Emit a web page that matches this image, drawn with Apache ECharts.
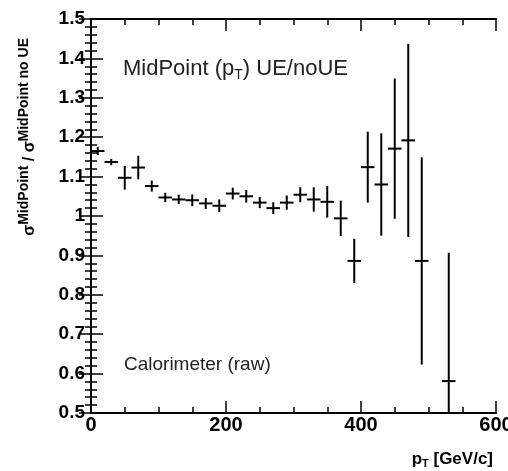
<!DOCTYPE html>
<html><head><meta charset="utf-8">
<script src="https://cdn.jsdelivr.net/npm/echarts@6/dist/echarts.min.js"></script>
<style>html,body{margin:0;padding:0;background:#fff}#c{width:508px;height:471px}</style>
</head><body><div id="c"></div>
<script>
var pT      = [10,30,50,70,90,110,130,150,170,190,210,230,250,270,290,310,330,350,370,390,410,430,450,470,490,530];
var ratio   = [1.165,1.137,1.097,1.123,1.076,1.047,1.042,1.040,1.032,1.026,1.057,1.050,1.034,1.020,1.034,1.054,1.042,1.036,0.994,0.886,1.124,1.080,1.171,1.192,0.886,0.581];
var errY    = [0.010,0.008,0.030,0.030,0.014,0.012,0.012,0.015,0.014,0.016,0.015,0.016,0.014,0.015,0.018,0.019,0.031,0.040,0.045,0.056,0.090,0.130,0.178,0.245,0.263,0.326];
var errX    = [10,10,10,10,10,10,10,10,10,10,10,10,10,10,10,10,10,10,10,10,10,10,10,10,10,10];
var xTicks  = [0,200,400,600];
var yTicks  = [0.5,0.6,0.7,0.8,0.9,1,1.1,1.2,1.3,1.4,1.5];

var data = pT.map(function(x,i){ return [x, ratio[i], ratio[i]-errY[i], ratio[i]+errY[i], errX[i]]; });
var FONT = '"Liberation Sans", Arial, Helvetica, sans-serif';
function tickSet(split){
  return {
    axisLine:{lineStyle:{color:'#000',width:2}},
    axisTick:{inside:true,length:12,lineStyle:{color:'#000',width:1.5}},
    minorTick:{show:true,splitNumber:split,length:6,lineStyle:{color:'#000',width:1.5}},
    splitLine:{show:false}
  };
}
function ax(base, extra){ for (var k in extra) base[k]=extra[k]; return base; }

var chart = echarts.init(document.getElementById('c'), null, {renderer:'canvas'});
chart.setOption({
  animation:false,
  backgroundColor:'#fff',
  grid:{left:91,top:19,width:405,height:394,containLabel:false,outerBoundsMode:'none'},
  xAxis:[
    ax(tickSet(4),{type:'value',position:'bottom',min:xTicks[0],max:xTicks[xTicks.length-1],interval:200,
      axisLabel:{color:'#000',fontFamily:FONT,fontWeight:'bold',fontSize:20,margin:2,
        formatter:function(v){return String(v);}}}),
    ax(tickSet(4),{type:'value',position:'top',min:xTicks[0],max:xTicks[xTicks.length-1],interval:200,
      axisLabel:{show:false}})
  ],
  yAxis:[
    ax(tickSet(5),{type:'value',position:'left',min:yTicks[0],max:yTicks[yTicks.length-1],interval:0.1,
      axisLabel:{color:'#000',fontFamily:FONT,fontWeight:'bold',fontSize:19,margin:6,
        formatter:function(v){return String(+v.toFixed(1));}}}),
    ax(tickSet(5),{type:'value',position:'right',min:yTicks[0],max:yTicks[yTicks.length-1],interval:0.1,
      axisLabel:{show:false}})
  ],
  series:[{
    type:'custom',
    xAxisIndex:0,yAxisIndex:0,
    clip:true,
    data:data,
    renderItem:function(params, api){
      var x=api.value(0), y=api.value(1), lo=api.value(2), hi=api.value(3), ex=api.value(4);
      var c=api.coord([x,y]), l=api.coord([x-ex,y]), r=api.coord([x+ex,y]);
      var t=api.coord([x,hi]), b=api.coord([x,lo]);
      var st={stroke:'#000',lineWidth:2};
      return {type:'group',children:[
        {type:'line',shape:{x1:l[0],y1:c[1],x2:r[0],y2:c[1]},style:st},
        {type:'line',shape:{x1:c[0],y1:t[1],x2:c[0],y2:b[1]},style:st}
      ]};
    }
  }],
  graphic:[
    {type:'text',left:123,top:58,style:{
      text:'MidPoint (p{sub|T}) UE/noUE',fill:'#222',font:'22px '+FONT,
      rich:{sub:{fontSize:14,fontFamily:FONT,fill:'#222',padding:[12,0,0,0]}}}},
    {type:'text',left:124,top:355,style:{text:'Calorimeter (raw)',fill:'#222',font:'19px '+FONT}},
    {type:'text',x:493,y:459,style:{
      text:'p{sub|T} [GeV/c]',fill:'#000',font:'bold 17px '+FONT,align:'right',verticalAlign:'middle',
      rich:{sub:{fontSize:11,fontWeight:'bold',fontFamily:FONT,fill:'#000',padding:[9,0,0,0]}}}},
    {type:'text',x:27,y:38,rotation:Math.PI/2,style:{
      text:'{b|σ}{s|MidPoint}{b| / σ}{s|MidPoint no UE}',align:'right',verticalAlign:'middle',fill:'#000',
      rich:{b:{fontSize:16,fontWeight:'bold',fontFamily:FONT,fill:'#000',padding:[6,0,0,0]},
            s:{fontSize:14,fontWeight:'bold',fontFamily:FONT,fill:'#000',padding:[0,0,6,0]}}}}
  ]
});
</script>
</body></html>
